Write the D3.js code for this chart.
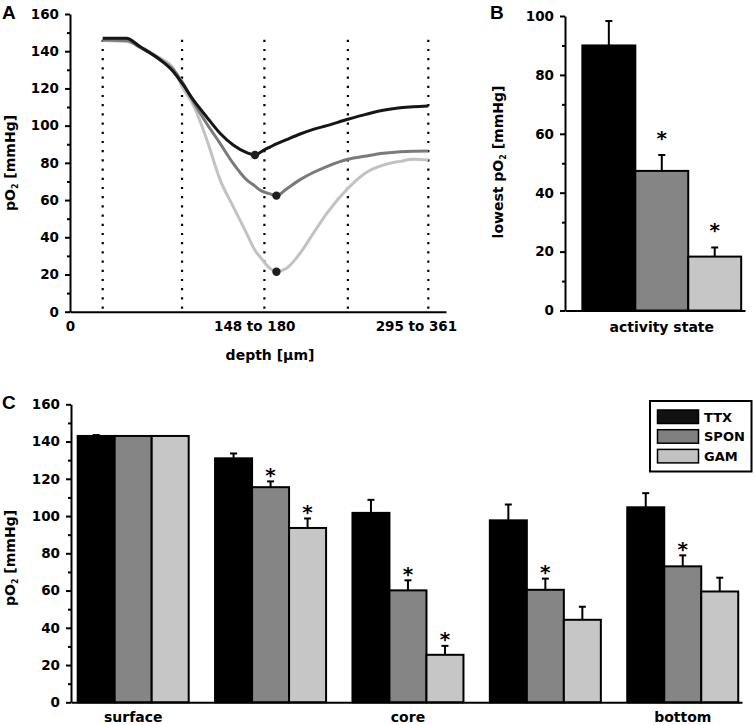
<!DOCTYPE html>
<html>
<head>
<meta charset="utf-8">
<script src="https://cdn.jsdelivr.net/npm/d3@7"></script>
<style>
  body { margin: 0; background: #fff; }
  svg { display: block; font-family: "DejaVu Sans", sans-serif; font-weight: bold; }
  .tick text { font-size: 13.5px; font-weight: bold; font-family: "DejaVu Sans", sans-serif; fill: #000; }
  .domain, .tick line { stroke: #000; stroke-width: 2; }
</style>
</head>
<body>
<div id="chart"></div>
<script>
// ---- data ----
// panel A: pO2 depth profiles (x in % of axis length)
const depthPos    = [8.7, 15, 18.6, 24, 27.5, 29.8, 32.8, 36.3, 39.9, 43.4, 47, 49.2, 50.5, 51.7, 53.2, 54.9, 57.6, 61.2, 64.7, 68.3, 73.9, 78.9, 83.3, 87.8, 91.3, 95.3];
const ttxProfile  = [147, 147, 142.5, 135.3, 129, 122.8, 113.8, 104.8, 95.9, 89.6, 85.5, 84.2, 85.5, 87, 88.5, 90.2, 92.5, 95.5, 98, 100, 103.4, 106.2, 108.3, 109.6, 110.2, 110.6];
const sponProfile = [146, 145.7, 142, 135.7, 130, 123.7, 112.9, 101.3, 90.5, 79.7, 70.8, 67.5, 65.4, 64.3, 63.3, 62.4, 66, 71, 74.8, 78, 81.9, 83.7, 85.1, 86, 86.3, 86.4];
const gamProfile  = [145.7, 145.2, 142.5, 136.2, 130.8, 121, 111, 93, 71, 56.5, 42, 33, 29.6, 26.5, 23.3, 21.5, 23.3, 31.4, 42.1, 52.9, 66.3, 75, 78.8, 80.8, 81.9, 81.5];
const boundaryPos = [8.7, 29.8, 51.7, 73.9, 95.3];
const depthTicks = [0, 49, 92];
const depthTickLabels = ["0", "148 to 180", "295 to 361"];

// panel B: lowest pO2 per activity state
const states = ["TTX", "SPON", "GAM"];
const lowestMean = [90, 47.4, 18.3];
const lowestErr = [8.3, 5.4, 3.1];
const lowestSig = [false, true, true];

// panel C: pO2 per layer
const layerLabels = ["surface", "", "core", "", "bottom"];
const ttxLayer  = [143, 131, 101.7, 97.7, 104.7];
const sponLayer = [143, 115.5, 60.1, 60.4, 73];
const gamLayer  = [143, 93.6, 25.5, 44.3, 59.5];
const ttxErr  = [0.5, 2.6, 7, 8.5, 7.6];
const sponErr = [0, 3.1, 5.4, 6, 5.9];
const gamErr  = [0, 5.1, 4.8, 7, 7.4];
const sponSig = [false, true, true, true, true];
const gamSig  = [false, true, true, false, false];

const lineColors = ["#161616", "#7a7a7a", "#c2c2c2"];
const barColors = ["#000000", "#858585", "#c6c6c6"];

const svg = d3.select("#chart").append("svg")
    .attr("width", 755)
    .attr("height", 725);

function yLabel(g, x, y, pre) {
    const t = g.append("text")
        .attr("transform", `translate(${x},${y}) rotate(-90)`)
        .attr("text-anchor", "middle")
        .style("font-size", "14px");
    t.append("tspan").text(pre + "pO");
    t.append("tspan").text("2").style("font-size", "8px").attr("dy", 3);
    t.append("tspan").text(" [mmHg]").attr("dy", -3);
}

function panelLetter(x, y, s) {
    svg.append("text").attr("x", x).attr("y", y).text(s)
        .style("font-size", "19px").style("font-family", "Liberation Sans, Arial, sans-serif");
}

function yAxes(y, major, minor, x0) {
    svg.append("g")
        .attr("transform", `translate(${x0},0)`)
        .call(d3.axisLeft(y).tickValues(major).tickSize(5).tickSizeOuter(0).tickPadding(6));
    svg.append("g")
        .attr("transform", `translate(${x0},0)`)
        .call(d3.axisLeft(y).tickValues(minor).tickSize(3).tickFormat(""))
        .select(".domain").remove();
}

// ---- panel A ----
const xA = d3.scaleLinear().domain([0, 100]).range([70, 446]);
const yA = d3.scaleLinear().domain([0, 160]).range([311.7, 14]);

svg.append("g")
    .attr("transform", `translate(0,${yA(0)})`)
    .call(d3.axisBottom(xA).tickValues(depthTicks).tickSize(0).tickSizeOuter(0).tickPadding(10)
        .tickFormat((d, i) => depthTickLabels[i]));
yAxes(yA, d3.range(0, 161, 20), d3.range(10, 160, 20), 70);

svg.append("g").selectAll("line")
    .data(boundaryPos)
    .join("line")
    .attr("x1", d => xA(d)).attr("x2", d => xA(d))
    .attr("y1", yA(0) - 3).attr("y2", yA(148))
    .attr("stroke", "#000")
    .attr("stroke-width", 2.2)
    .attr("stroke-dasharray", "2.2 7");

const profiles = [gamProfile, sponProfile, ttxProfile];
const profColors = [lineColors[2], lineColors[1], lineColors[0]];
const line = d3.line()
    .x((d, i) => xA(depthPos[i]))
    .y(d => yA(d))
    .curve(d3.curveMonotoneX);

profiles.forEach((p, k) => {
    svg.append("path")
        .datum(p)
        .attr("d", line)
        .attr("fill", "none")
        .attr("stroke", profColors[k])
        .attr("stroke-width", 3);
});
profiles.forEach(p => {
    const i = d3.minIndex(p);
    svg.append("circle")
        .attr("cx", xA(depthPos[i]))
        .attr("cy", yA(p[i]))
        .attr("r", 4.2)
        .attr("fill", "#1e1e1e");
});

svg.append("text")
    .attr("x", 270).attr("y", 360)
    .attr("text-anchor", "middle")
    .style("font-size", "14px")
    .text("depth [µm]");
yLabel(svg, 15, 163, "");
panelLetter(2, 19, "A");

// ---- panel B ----
const xB = d3.scaleBand().domain(states).range([565, 745])
    .paddingInner(0).paddingOuter(0.2).align(0.82);
const yB = d3.scaleLinear().domain([0, 100]).range([310.5, 16]);

svg.append("g").selectAll("rect")
    .data(states)
    .join("rect")
    .attr("x", d => xB(d))
    .attr("y", (d, i) => yB(lowestMean[i]))
    .attr("width", xB.bandwidth())
    .attr("height", (d, i) => yB(0) - yB(lowestMean[i]))
    .attr("fill", (d, i) => barColors[i])
    .attr("stroke", "#000")
    .attr("stroke-width", 2);

function errorBars(g, xs, tops, errs, ys, cap) {
    g.selectAll(null).data(xs).join("line")
        .attr("x1", d => d).attr("x2", d => d)
        .attr("y1", (d, i) => ys(tops[i]))
        .attr("y2", (d, i) => ys(tops[i] + errs[i]))
        .attr("stroke", "#000").attr("stroke-width", 2);
    g.selectAll(null).data(xs).join("line")
        .attr("x1", d => d - cap).attr("x2", d => d + cap)
        .attr("y1", (d, i) => ys(tops[i] + errs[i]))
        .attr("y2", (d, i) => ys(tops[i] + errs[i]))
        .attr("stroke", "#000").attr("stroke-width", 2);
}

const gB = svg.append("g");
errorBars(gB, states.map(s => xB(s) + xB.bandwidth() / 2), lowestMean, lowestErr, yB, 3.5);
gB.selectAll(".star").data(states.filter((s, i) => lowestSig[i]))
    .join("text")
    .attr("class", "star")
    .attr("x", d => xB(d) + xB.bandwidth() / 2)
    .attr("y", d => { const i = states.indexOf(d); return yB(lowestMean[i] + lowestErr[i]) - 10; })
    .attr("text-anchor", "middle")
    .style("font-size", "20px")
    .text("*");

svg.append("g")
    .attr("transform", `translate(0,${yB(0)})`)
    .call(d3.axisBottom(xB).tickValues([]).tickSize(0).tickSizeOuter(0));
yAxes(yB, d3.range(0, 101, 20), d3.range(10, 100, 20), 565);

svg.append("text")
    .attr("x", xB(states[0]) + xB.step() * 1.5).attr("y", 332)
    .attr("text-anchor", "middle")
    .style("font-size", "14px")
    .text("activity state");
yLabel(svg, 503, 162, "lowest ");
panelLetter(490, 19, "B");

// ---- panel C ----
const groups = d3.range(layerLabels.length);
const xC = d3.scaleBand().domain(groups).range([71, 742])
    .paddingInner(0.192).paddingOuter(0.038).align(0.64);
const xSub = d3.scaleBand().domain(states).range([0, xC.bandwidth()]);
const yC = d3.scaleLinear().domain([0, 160]).range([702.3, 404.3]);

const layerMeans = [ttxLayer, sponLayer, gamLayer];
const layerErrs = [ttxErr, sponErr, gamErr];
const layerSig = [groups.map(() => false), sponSig, gamSig];

const gC = svg.append("g");
states.forEach((s, k) => {
    gC.append("g").selectAll("rect")
        .data(groups)
        .join("rect")
        .attr("x", g => xC(g) + xSub(s))
        .attr("y", g => yC(layerMeans[k][g]))
        .attr("width", xSub.bandwidth())
        .attr("height", g => yC(0) - yC(layerMeans[k][g]))
        .attr("fill", barColors[k])
        .attr("stroke", "#000")
        .attr("stroke-width", 2);
});
states.forEach((s, k) => {
    const eg = gC.append("g");
    const withErr = groups.filter(g => layerErrs[k][g] > 0);
    errorBars(eg, withErr.map(g => xC(g) + xSub(s) + xSub.bandwidth() / 2),
        withErr.map(g => layerMeans[k][g]), withErr.map(g => layerErrs[k][g]), yC, 3.5);
    eg.selectAll(".star").data(groups.filter(g => layerSig[k][g]))
        .join("text")
        .attr("class", "star")
        .attr("x", g => xC(g) + xSub(s) + xSub.bandwidth() / 2)
        .attr("y", g => yC(layerMeans[k][g] + layerErrs[k][g]) + 0.5)
        .attr("text-anchor", "middle")
        .style("font-size", "20px")
        .text("*");
});

svg.append("g")
    .attr("transform", `translate(0,${yC(0)})`)
    .call(d3.axisBottom(xC).tickSize(0).tickSizeOuter(0).tickPadding(9.5)
        .tickFormat(g => layerLabels[g]))
    .selectAll("text").style("font-size", "14px");
yAxes(yC, d3.range(0, 161, 20), d3.range(10, 160, 20), 71);
yLabel(svg, 15, 558, "");
panelLetter(2, 409, "C");

// legend
const leg = svg.append("g").attr("transform", "translate(650,401)");
leg.append("rect").attr("width", 101.5).attr("height", 70.5)
    .attr("fill", "#fff").attr("stroke", "#000").attr("stroke-width", 2);
const legColors = ["#111111", "#808080", "#c2c2c2"];
states.forEach((s, k) => {
    leg.append("rect")
        .attr("x", 7.5).attr("y", 9 + k * 19.7)
        .attr("width", 41).attr("height", 13.5)
        .attr("fill", legColors[k])
        .attr("stroke", "#000").attr("stroke-width", 1.5);
    leg.append("text")
        .attr("x", 54).attr("y", 20.5 + k * 19.7)
        .style("font-size", "13px")
        .text(s);
});
</script>
</body>
</html>
